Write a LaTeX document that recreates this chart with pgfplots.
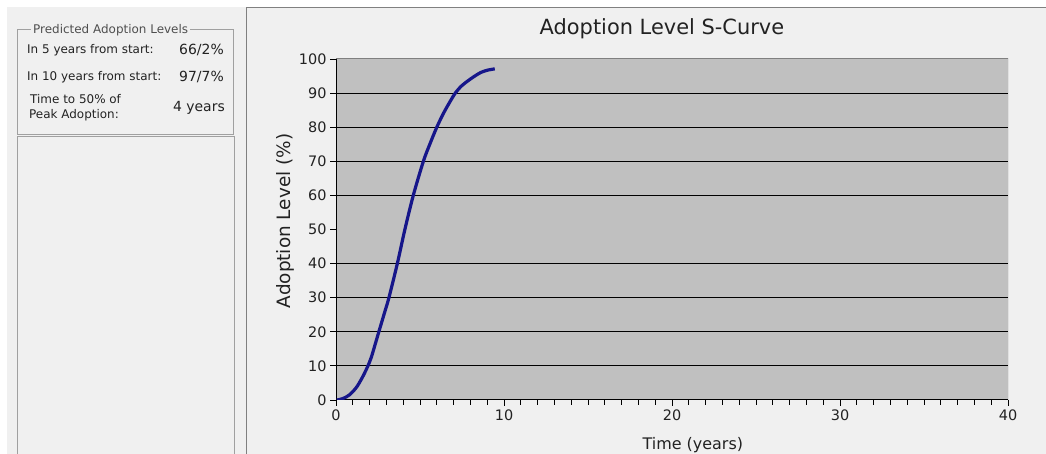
\documentclass[border=0pt]{standalone}
\usepackage{fontspec}
\setmainfont{DejaVu Sans}
\usepackage{pgfplots}
\pgfplotsset{compat=1.18}
\definecolor{panelbg}{HTML}{F0F0F0}
\definecolor{plotbg}{HTML}{C0C0C0}
\definecolor{curve}{HTML}{16168A}
\definecolor{frame}{HTML}{A0A0A0}
\definecolor{txt}{HTML}{222222}
\begin{document}
\begin{tikzpicture}[x=1bp,y=1bp]
\path[use as bounding box] (0,0) rectangle (1046,454);
\fill[white] (0,0) rectangle (1046,454);
\fill[panelbg] (7,0) rectangle (1046,447);
% left panel
\draw[frame, line width=1bp] (17,424) rectangle (233,319);
\draw[frame, line width=1bp] (17,-3) -- (17,317) -- (234,317) -- (234,-3);
\node[fill=panelbg, text=txt!80, anchor=west, inner xsep=2bp, inner ysep=0bp, font=\fontsize{12}{14}\selectfont] at (31,424) {Predicted Adoption Levels};
\begin{scope}[every node/.style={text=txt, inner sep=0pt}]
\node[anchor=west, font=\fontsize{12}{14}\selectfont] at (27,404) {In 5 years from start:};
\node[anchor=east, font=\fontsize{14}{16}\selectfont] at (224,404) {66/2\%};
\node[anchor=west, font=\fontsize{12}{14}\selectfont] at (27,377) {In 10 years from start:};
\node[anchor=east, font=\fontsize{14}{16}\selectfont] at (224,377) {97/7\%};
\node[anchor=west, font=\fontsize{12}{14}\selectfont] at (30,355) {Time to 50\% of};
\node[anchor=west, font=\fontsize{12}{14}\selectfont] at (29,339) {Peak Adoption:};
\node[anchor=east, font=\fontsize{14}{16}\selectfont] at (225,346) {4 years};
\end{scope}
% chart panel border
\draw[frame!80!black, line width=1bp] (246,-3) -- (246,446) -- (1047,446);
\begin{axis}[
  at={(336bp,54bp)}, anchor=south west, scale only axis,
  width=672bp, height=341bp,
  xmin=0, xmax=40, ymin=0, ymax=100,
  axis lines=left, axis line style={-, black, line width=1bp},
  axis background/.style={fill=plotbg},
  xtick={0,10,20,30,40}, minor x tick num=9,
  ytick={0,10,...,100},
  tick align=outside, major tick length=6bp, minor tick length=5bp,
  tick style={black, line width=0.8bp},
  extra y ticks={10,20,30,40,60,70,80,90},
  extra y tick labels={},
  extra y tick style={grid=major, major grid style={black, line width=1bp}, major tick length=0pt},
  /pgf/number format/assume math mode=true,
  tick label style={font=\fontsize{14.5}{16}\selectfont, text=txt},
  title={Adoption Level S-Curve},
  title style={at={(axis description cs:0.485,1.07)}, anchor=center, font=\fontsize{21}{24}\selectfont, text=txt},
  xlabel={Time (years)},
  xlabel style={at={(axis description cs:0.531,-0.132)}, anchor=center, font=\fontsize{16}{18}\selectfont, text=txt},
  ylabel={Adoption Level (\%)},
  ylabel style={at={(axis description cs:-0.076,0.525)}, anchor=center, font=\fontsize{18.5}{20}\selectfont, text=txt},
]
\addplot[curve, line width=3.2bp, smooth, tension=0.5] table {
t y
0.05 0.0
0.4 0.4
0.8 1.5
1.2 3.6
1.5 6.0
1.7 7.9
1.9 10.0
2.1 12.5
2.3 15.8
2.55 20.0
2.9 25.8
3.15 30.0
3.65 40.0
4.1 50.0
4.6 60.0
5.2 70.0
5.6 75.2
6.0 80.0
6.4 84.1
6.8 87.6
7.1 90.0
7.45 92.0
7.8 93.4
8.2 94.8
8.6 96.0
9.0 96.7
9.45 97.1
};
\draw[gray, line width=1bp] (rel axis cs:0,1) -- (rel axis cs:1,1) -- (rel axis cs:1,0);
\end{axis}
\end{tikzpicture}
\end{document}
